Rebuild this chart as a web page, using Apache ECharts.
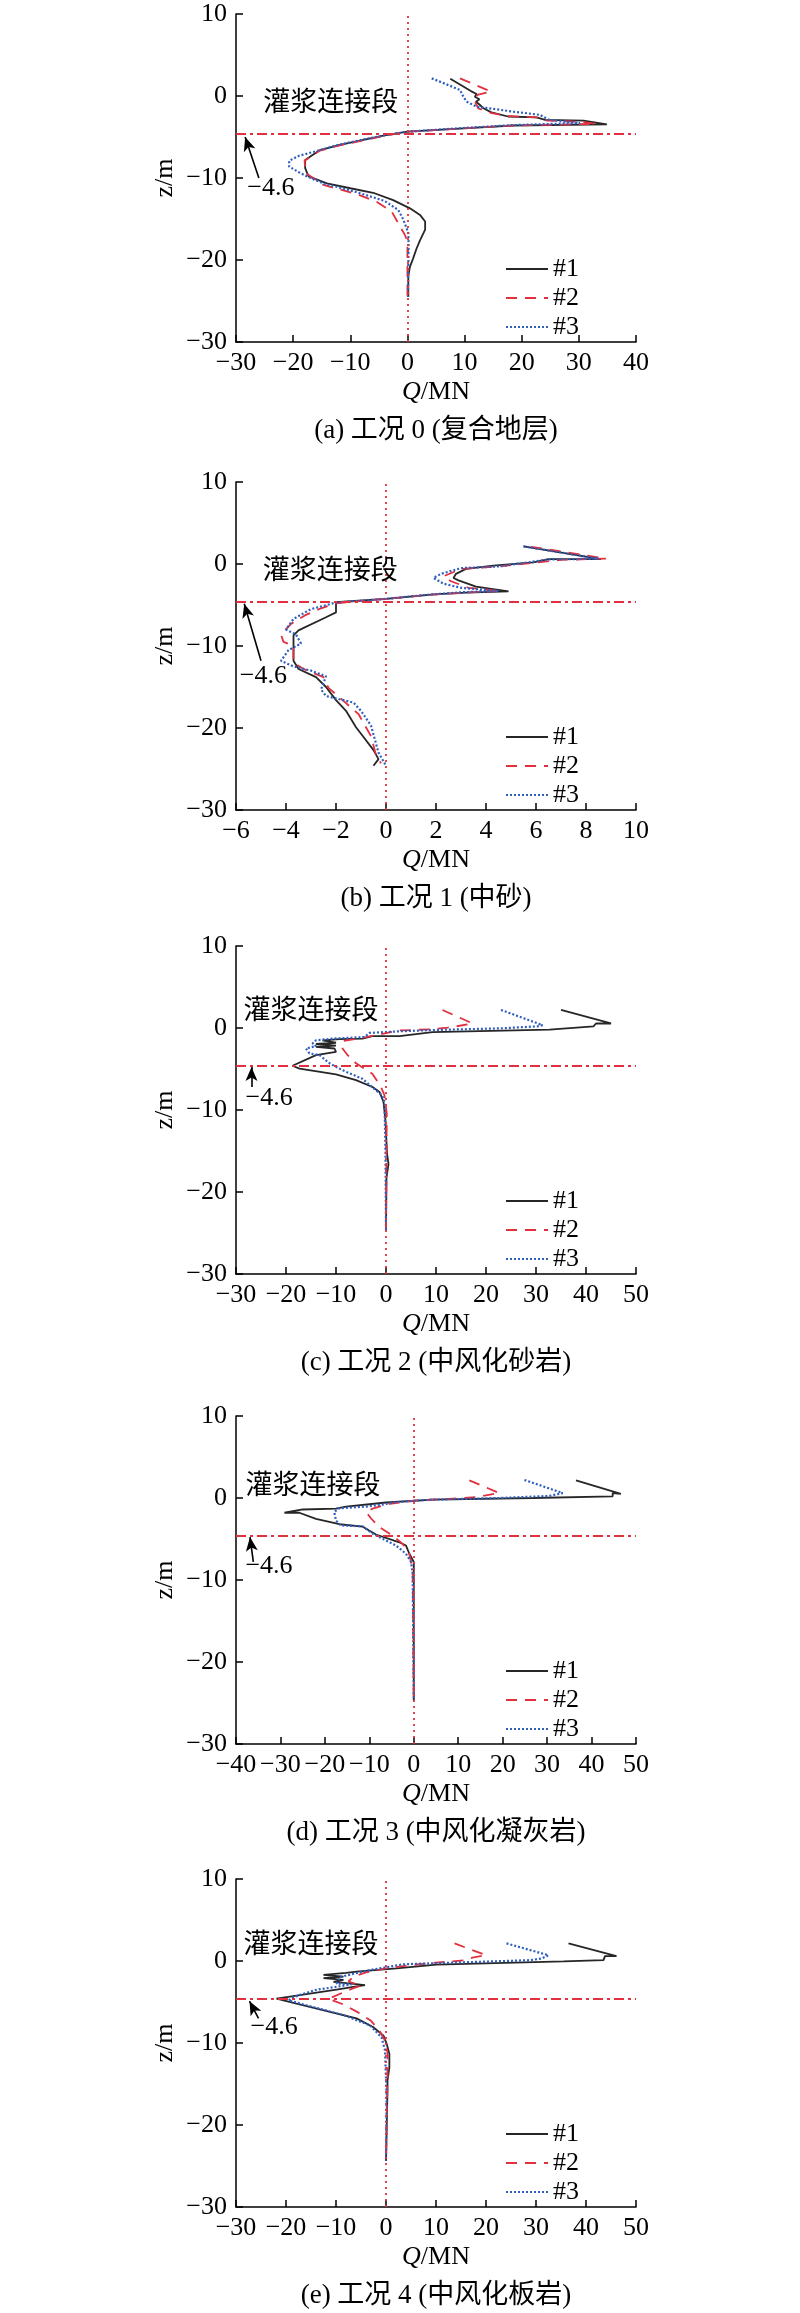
<!DOCTYPE html>
<html><head><meta charset="utf-8">
<script src="https://cdn.jsdelivr.net/npm/echarts/dist/echarts.min.js"></script>
<style>html,body{margin:0;padding:0;background:#fff}#c{width:800px;height:2313px}</style>
</head><body><div id="c"></div>
<script>
// ---------- data: [Q (MN), z (m)] ----------
const a1 = [[7.5,2.1],[11.1,0.6],[12.1,0.25],[11.8,-0.1],[12.6,-0.4],[12.0,-0.7],[12.7,-1.1],[13.3,-1.5],[14.7,-2.0],[17.6,-2.5],[22.6,-2.6],[24.1,-2.9],[30.8,-3.0],[34.9,-3.45],[18.5,-3.6],[9.8,-3.95],[0,-4.35],[-4,-4.8],[-7.7,-5.35],[-12,-6.0],[-15.3,-6.6],[-17.9,-7.8],[-17.9,-8.8],[-17.3,-9.8],[-14.1,-10.65],[-10.0,-11.25],[-6.0,-11.8],[-2.5,-12.7],[0.45,-13.7],[2.2,-14.5],[3.1,-15.3],[3.1,-16.3],[2.2,-17.6],[1.6,-18.6],[1.0,-19.8],[0.45,-20.8],[0.15,-22.0],[0.15,-24.5]];
const a2 = [[9.2,2.15],[14.6,0.55],[12.2,0.15],[12.6,-0.4],[11.9,-0.8],[12.4,-1.5],[14.6,-2.05],[17.5,-2.45],[22.5,-2.6],[24.5,-3.0],[30.5,-3.15],[33.0,-3.4],[18.5,-3.6],[9.8,-3.95],[0,-4.35],[-4,-4.85],[-7.7,-5.4],[-12,-6.05],[-15.3,-6.65],[-18.0,-7.9],[-17.8,-9.4],[-16.5,-10.0],[-14.7,-10.85],[-8.9,-11.95],[-5.4,-12.9],[-2.75,-14.1],[-1.3,-15.9],[-0.4,-17.0],[-0.1,-17.6],[0,-18.5],[0,-24.5]];
const a3 = [[4.25,2.15],[9.2,0.75],[9.8,-0.1],[10.4,-0.7],[12.1,-1.3],[18.5,-1.9],[23.2,-2.3],[24.7,-2.9],[30.2,-3.3],[18.5,-3.55],[9.8,-3.9],[0,-4.35],[-4,-4.8],[-7.7,-5.3],[-12,-5.95],[-15.3,-6.6],[-19,-7.3],[-20.7,-7.9],[-20.7,-8.6],[-19.0,-9.3],[-17.3,-9.9],[-14.5,-10.7],[-9,-11.7],[-4,-12.8],[-1.6,-13.9],[-0.7,-15.1],[0.16,-16.7],[0.2,-18],[0.1,-24.5]];

const b1 = [[5.5,2.15],[8.3,0.75],[8.6,0.6],[6.5,0.6],[5.9,0.2],[4.3,-0.2],[3.2,-0.6],[2.8,-1.2],[2.7,-1.7],[2.9,-2.0],[3.6,-2.75],[4.9,-3.35],[3.2,-3.5],[1.9,-3.7],[0,-4.25],[-2.0,-4.65],[-2.0,-5.9],[-2.4,-6.5],[-3.5,-8.1],[-3.7,-8.7],[-3.7,-11.8],[-3.5,-12.8],[-2.8,-13.8],[-2.4,-15.0],[-2.0,-16.6],[-1.6,-17.9],[-1.2,-19.9],[-0.9,-21.1],[-0.5,-22.7],[-0.3,-23.8],[-0.5,-24.6]];
const b2 = [[5.8,2.1],[8.8,0.65],[7.0,0.5],[4.5,-0.3],[3.0,-0.6],[2.3,-1.5],[2.6,-2.1],[3.3,-2.9],[4.6,-3.3],[3.4,-3.45],[1.6,-3.8],[0,-4.25],[-1.0,-4.5],[-2.0,-4.8],[-2.6,-5.4],[-3.2,-6.2],[-3.8,-7.3],[-4.2,-8.6],[-4.1,-9.5],[-3.7,-10.0],[-3.7,-12.0],[-3.3,-12.8],[-2.5,-13.8],[-2.3,-15.1],[-1.7,-16.7],[-1.1,-18.3],[-0.6,-21.0],[-0.4,-23.3],[-0.2,-24.3]];
const b3 = [[5.5,2.15],[8.5,0.65],[6.5,0.55],[4.5,-0.3],[3.0,-0.5],[2.2,-1.2],[1.9,-1.7],[2.3,-2.4],[3.0,-2.9],[4.5,-3.3],[3.0,-3.45],[1.5,-3.8],[0,-4.25],[-2.0,-4.7],[-3.0,-5.5],[-3.7,-6.7],[-4.0,-8.0],[-3.6,-8.6],[-3.4,-9.7],[-3.9,-10.5],[-4.2,-11.8],[-3.7,-12.5],[-3.0,-13.0],[-2.4,-13.7],[-2.6,-15.3],[-2.4,-16.1],[-1.3,-16.9],[-1.0,-17.9],[-0.6,-19.7],[-0.3,-23.0],[0,-24.6]];

const c1 = [[35,2.2],[45,0.55],[42,0.55],[41.5,0.2],[32.7,-0.2],[9.3,-0.5],[2.7,-1.0],[-2.7,-1.0],[-4.7,-1.3],[-9.3,-1.35],[-12.7,-1.5],[-10,-1.8],[-14,-1.95],[-10,-2.15],[-14,-2.3],[-10.3,-2.5],[-10,-2.9],[-14,-3.3],[-18.7,-4.6],[-17.3,-4.95],[-10,-5.65],[-6,-6.35],[-2.7,-7.2],[-1.3,-7.8],[-0.5,-9.0],[-0.1,-11.3],[0.2,-15.3],[0.5,-16.6],[0.1,-18.2],[0,-24.7]];
const c2 = [[11.3,2.2],[17.3,0.55],[14,0.2],[12.3,0.05],[9.3,-0.15],[2.7,-0.3],[-4,-1.1],[-8.7,-1.6],[-8.7,-2.5],[-7.7,-3.3],[-6,-4.3],[-2.7,-5.6],[-1,-7.2],[-0.3,-8.2],[0.15,-10.4],[0,-24.7]];
const c3 = [[23,2.2],[31.3,0.35],[30.3,0.2],[22.7,-0.05],[9.3,-0.25],[2.7,-0.4],[-3.3,-0.6],[-4.3,-1.1],[-10.7,-1.3],[-14,-1.5],[-14.7,-1.9],[-14,-2.2],[-16,-2.5],[-15.3,-3.1],[-13.3,-3.3],[-11.3,-4.3],[-8.7,-5.15],[-4.7,-6.2],[-2,-7.6],[-0.8,-8.2],[-0.3,-9.0],[-0.1,-15.3],[0,-24.7]];

const d1 = [[36.5,2.15],[46.6,0.5],[44.75,0.6],[44.75,0.2],[26.75,0],[4.25,-0.2],[-6.25,-0.55],[-15.25,-1.05],[-17.5,-1.3],[-25,-1.4],[-29.1,-1.8],[-25.75,-1.8],[-22,-2.55],[-16.75,-3.2],[-11.5,-3.5],[-8.5,-4.45],[-3.25,-5.4],[-1.75,-5.8],[-1.0,-6.8],[0,-7.8],[0,-24.7]];
const d2 = [[12.5,2.15],[19.25,0.6],[15.9,0.3],[14,0.1],[8,-0.1],[0.5,-0.3],[-5.5,-0.7],[-9.25,-1.3],[-10.75,-1.7],[-9.6,-2.5],[-7.75,-3.55],[-4.75,-4.6],[-2.5,-5.6],[-1,-6.8],[-0.25,-8.85],[0,-24.7]];
const d3 = [[24.9,2.2],[33.5,0.6],[30.5,0.25],[19.25,0],[4.25,-0.2],[-4,-0.5],[-7,-0.8],[-10.75,-1.05],[-16.75,-1.25],[-17.9,-1.7],[-17.5,-2.75],[-16.4,-3.35],[-11.5,-3.45],[-9.25,-4.35],[-4,-5.8],[-1.75,-6.8],[-0.6,-7.8],[-0.25,-9.25],[0,-24.7]];

const e1 = [[36.5,2.15],[46.1,0.6],[43.8,0.6],[43.5,0.1],[35.5,-0.05],[10.1,-0.45],[2.1,-0.9],[-5.9,-1.3],[-8,-1.45],[-12.5,-1.7],[-8.5,-1.9],[-12.5,-2.1],[-8.5,-2.3],[-10.5,-2.55],[-6.5,-2.8],[-4.2,-2.95],[-6.5,-3.15],[-9.9,-3.5],[-21.9,-4.6],[-17.9,-5.2],[-11.2,-6.2],[-5.9,-7.0],[-2.6,-8.05],[-0.5,-9.1],[0.13,-10.1],[0.67,-11.3],[0.67,-13.0],[0.3,-14.6],[0.3,-15.8],[0,-24.4]];
const e2 = [[13.7,2.15],[20,0.7],[17.3,0.42],[16,0.1],[10,-0.2],[5,-0.5],[0,-0.9],[-4,-1.4],[-6.5,-1.9],[-7.5,-2.5],[-5,-3.0],[-6.5,-3.3],[-11.5,-4.6],[-8.5,-5.3],[-5.5,-6.3],[-3,-7.3],[-1.3,-8.5],[-0.2,-9.7],[0.3,-11.2],[0.3,-14],[0,-24.4]];
const e3 = [[24.1,2.15],[32.5,0.7],[31.1,0.3],[28.8,0.1],[3.5,-0.4],[-3.2,-1.1],[-9.2,-1.95],[-9.9,-2.75],[-6.9,-2.85],[-9.9,-3.15],[-13.9,-3.5],[-18.5,-4.4],[-19.5,-4.8],[-15.9,-5.4],[-8.5,-6.6],[-3.2,-7.85],[-0.9,-9.3],[-0.2,-10.9],[0.13,-16.6],[0,-24.4]];

const seriesNames = ['#1','#2','#3'];
const captions = ['(a) 工况 0 (复合地层)','(b) 工况 1 (中砂)','(c) 工况 2 (中风化砂岩)','(d) 工况 3 (中风化凝灰岩)','(e) 工况 4 (中风化板岩)'];
const xRanges = [[-30,40,10],[-6,10,2],[-30,50,10],[-40,50,10],[-30,50,10]];
const yRange = [-30,10,10];
const groutDepth = -4.6;
const groutText = '灌浆连接段';
// annotation anchors in data units [Q, z]
const groutTextPos = [[-25.3,-0.98],[-4.95,-0.96],[-28.6,1.93],[-38,1.3],[-28.6,1.8]];
const depthTextPos = [[-28.1,-11.3],[-5.87,-13.7],[-28.2,-8.5],[-38,-8.35],[-27.2,-8.1]];
const arrowTail = [[-26,-10],[-5.0,-11.8],[-26.9,-7.2],[-36.1,-7.8],[-25.5,-7.0]];
const arrowTip = [[-28.4,-5.0],[-5.67,-4.85],[-26.9,-4.75],[-36.85,-4.77],[-27.3,-4.9]];

const allData = [[a1,a2,a3],[b1,b2,b3],[c1,c2,c3],[d1,d2,d3],[e1,e2,e3]];

// ---------- styles ----------
const FONT = "'Times New Roman','Liberation Serif','Noto Sans CJK SC',serif";
const BLACK = '#262626', RED = '#e2303e', BLUE = '#2f5fbf';
const lineStyles = [
  {color: BLACK, width: 1.8, type: 'solid'},
  {color: RED, width: 1.8, type: [11, 8]},
  {color: BLUE, width: 2.2, type: [2, 2]}
];
const tops = [14, 482, 946, 1416, 1879];
const GH = 328, GL = 236, GW = 400;
const minus = v => (v < 0 ? '\u2212' + Math.abs(v) : String(v));

const grid = [], xAxis = [], yAxis = [], series = [], legend = [], graphic = [];
tops.forEach((t, i) => {
  grid.push({left: GL, top: t, width: GW, height: GH, containLabel: false});
  const axisCommon = {
    gridIndex: i, type: 'value',
    axisLine: {show: true, onZero: false, lineStyle: {color: '#000', width: 1.5}},
    axisTick: {show: true, inside: true, length: 7, lineStyle: {color: '#000', width: 1.5}},
    splitLine: {show: false},
    axisLabel: {color: '#000', fontSize: 26, fontFamily: FONT, formatter: minus},
    nameTextStyle: {color: '#000', fontSize: 26, fontFamily: FONT}
  };
  xAxis.push(Object.assign({}, axisCommon, {
    min: xRanges[i][0], max: xRanges[i][1], interval: xRanges[i][2],
    axisLabel: Object.assign({}, axisCommon.axisLabel, {margin: 8}),
    name: '{i|Q}/MN', nameLocation: 'middle', nameGap: 37,
    nameTextStyle: {color: '#000', fontSize: 26, fontFamily: FONT,
      rich: {i: {fontStyle: 'italic', fontSize: 26, fontFamily: FONT, color: '#000'}}}
  }));
  yAxis.push(Object.assign({}, axisCommon, {
    min: yRange[0], max: yRange[1], interval: yRange[2],
    axisLabel: Object.assign({}, axisCommon.axisLabel, {margin: 9}),
    name: 'z/m', nameLocation: 'middle', nameGap: 58, nameRotate: 90
  }));
  allData[i].forEach((d, k) => {
    series.push({
      type: 'line', name: seriesNames[k], xAxisIndex: i, yAxisIndex: i,
      data: d, symbol: 'none', showSymbol: false, smooth: false,
      lineStyle: lineStyles[k], itemStyle: {color: lineStyles[k].color},
      z: 2, animation: false
    });
  });
  series.push({
    type: 'scatter', name: 'anno' + i, xAxisIndex: i, yAxisIndex: i, data: [],
    silent: true, animation: false, z: 10,
    markLine: {
      silent: true, animation: false, symbol: ['none', 'none'], label: {show: false},
      data: [
        {xAxis: 0, lineStyle: {color: RED, type: [2, 4], width: 1.8}},
        {yAxis: groutDepth, lineStyle: {color: RED, type: [10, 4, 3, 4], width: 2}},
        [{coord: arrowTail[i], symbol: 'none'},
         {coord: arrowTip[i], symbol: 'arrow', symbolSize: [9, 14], lineStyle: {color: '#000', width: 1.6, type: 'solid'}}]
      ],
      lineStyle: {color: '#000', width: 1.6}
    },
    markPoint: {
      silent: true, animation: false, symbol: 'rect', symbolSize: 1,
      itemStyle: {color: 'rgba(0,0,0,0)'},
      label: {show: true, position: 'right', distance: 0, color: '#000', fontFamily: FONT, fontSize: 26},
      data: [
        {coord: groutTextPos[i], label: {formatter: groutText, fontSize: 27}},
        {coord: depthTextPos[i], label: {formatter: '\u22124.6', fontSize: 26}}
      ]
    }
  });
  legend.push({
    show: true, orient: 'vertical', left: 505, top: t + 242, padding: 0,
    itemWidth: 42, itemHeight: 14, itemGap: 3, selectedMode: false,
    data: seriesNames,
    itemStyle: {opacity: 0},
    textStyle: {color: '#000', fontSize: 26, fontFamily: FONT, lineHeight: 22}
  });
  graphic.push({
    type: 'text', x: GL + GW / 2, y: t + GH + 89, silent: true,
    style: {text: captions[i], fontSize: 27, fontFamily: FONT, fill: '#000',
      textAlign: 'center', textVerticalAlign: 'middle'}
  });
});

const chart = echarts.init(document.getElementById('c'), null, {renderer: 'canvas'});
chart.setOption({
  animation: false,
  backgroundColor: '#fff',
  textStyle: {fontFamily: FONT},
  grid, xAxis, yAxis, series, legend, graphic
});
</script>
</body></html>
